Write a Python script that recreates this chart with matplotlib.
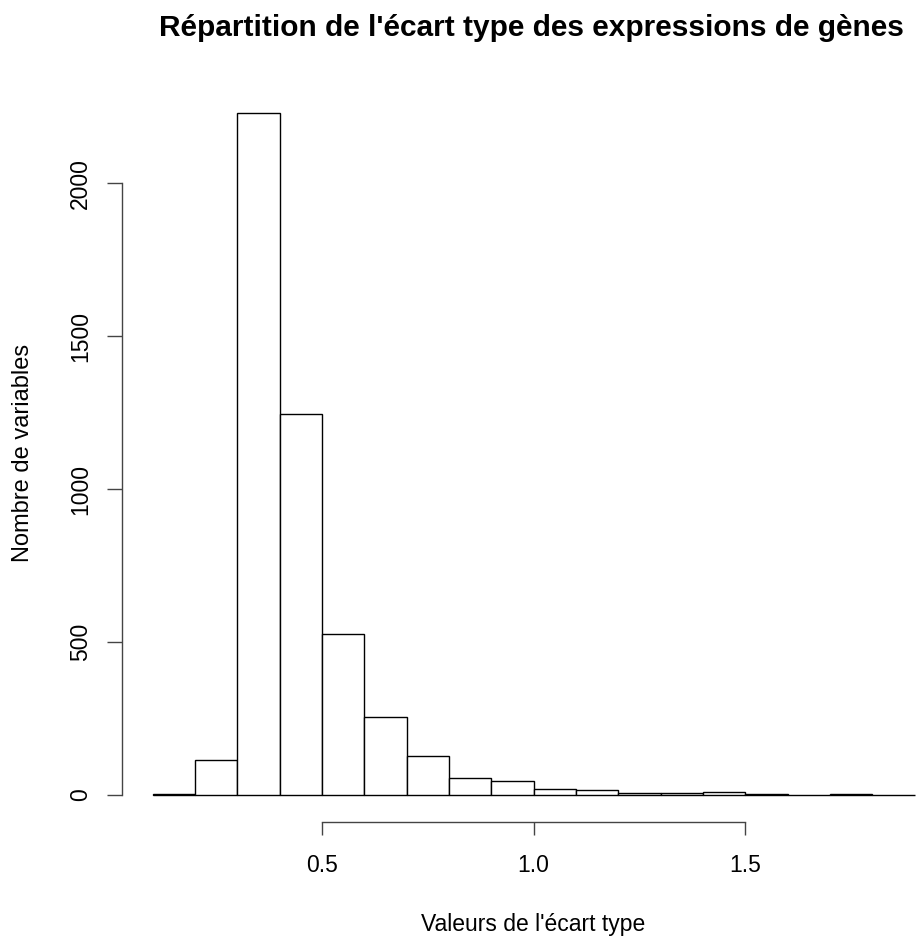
import matplotlib
matplotlib.use("Agg")
import matplotlib.pyplot as plt

bornes = [0.1, 0.2, 0.3, 0.4, 0.5, 0.6, 0.7, 0.8, 0.9, 1.0,
          1.1, 1.2, 1.3, 1.4, 1.5, 1.6, 1.7, 1.8, 1.9]
effectifs = [2, 114, 2229, 1245, 526, 256, 127, 55, 47, 20,
             15, 8, 7, 10, 4, 0, 3, 0]
ticks_x = [0.5, 1.0, 1.5]
ticks_y = [0, 500, 1000, 1500, 2000]

titre = "Répartition de l'écart type des expressions de gènes"
label_x = "Valeurs de l'écart type"
label_y = "Nombre de variables"

W, H = 916, 936
plt.rcParams['font.family'] = ['Liberation Sans', 'DejaVu Sans']
fig = plt.figure(figsize=(W / 100, H / 100), dpi=100)

# zone de trace en pixels (comme R: usr etendu de 4%)
x0, x1 = 122.2, 945.0
y_bas, y_haut = 822.3, 86.0
ax = fig.add_axes([x0 / W, 1 - y_bas / H, (x1 - x0) / W, (y_bas - y_haut) / H])
ax.set_xlim(0.028, 1.972)
ax.set_ylim(-89.2, 2318)

largeurs = [bornes[i + 1] - bornes[i] for i in range(len(effectifs))]
ax.bar(bornes[:-1], effectifs, width=largeurs, align='edge',
       facecolor='white', edgecolor='black', linewidth=1.0)

for s in ['top', 'right']:
    ax.spines[s].set_visible(False)
ax.spines['left'].set_bounds(0, 2000)
ax.spines['bottom'].set_bounds(0.5, 1.5)
for s in ['left', 'bottom']:
    ax.spines[s].set_color('#444444')
    ax.spines[s].set_linewidth(1.0)

ax.set_xticks(ticks_x)
ax.set_xticklabels(['0.5', '1.0', '1.5'])
ax.set_yticks(ticks_y)
ax.set_yticklabels([str(v) for v in ticks_y], rotation=90, va='center')
ax.tick_params(axis='x', length=9.6, width=1.0, color='#444444', pad=13, labelsize=16.5)
ax.tick_params(axis='y', length=10.5, width=1.0, color='#444444', pad=11, labelsize=16.5)

fig.text(531 / W, 1 - 28 / H, titre, ha='center', va='center',
         fontsize=21.5, fontweight='bold')
fig.text(533 / W, 1 - 924 / H, label_x, ha='center', va='center', fontsize=16.5)
fig.text(23 / W, 1 - 453 / H, label_y, ha='center', va='center',
         rotation=90, fontsize=17)

fig.savefig('out.png', dpi=100)
